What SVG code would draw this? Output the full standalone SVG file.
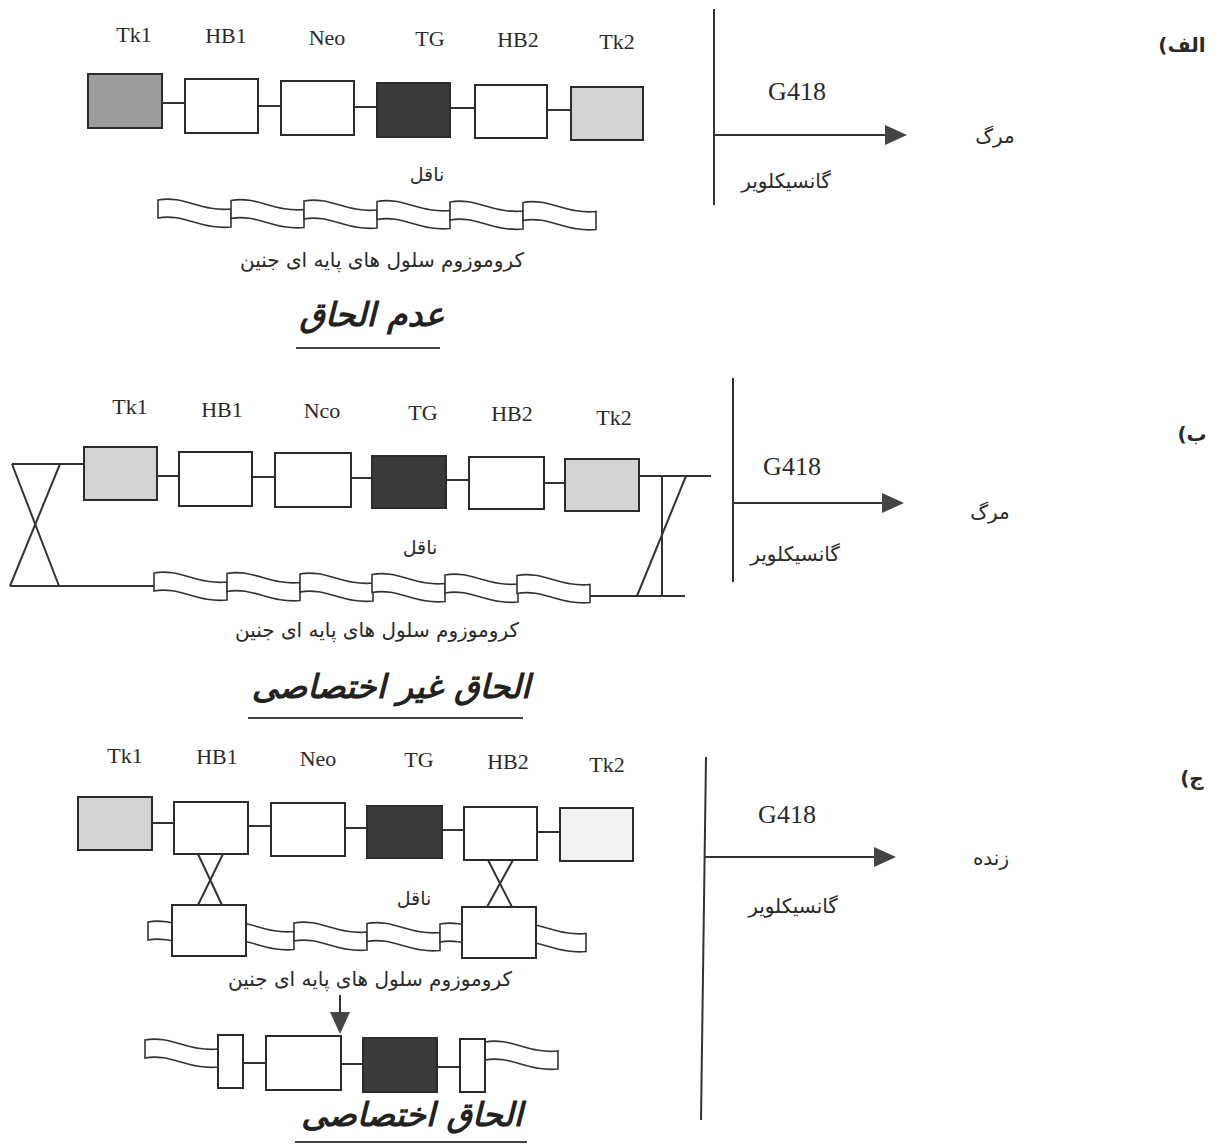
<svg xmlns="http://www.w3.org/2000/svg" xmlns:xlink="http://www.w3.org/1999/xlink" width="1218" height="1145" viewBox="0 0 1218 1145">
<style>
  .bg { fill: #ffffff; }
  .box { stroke: #2b2b2b; stroke-width: 2; fill: #ffffff; }
  .tg { fill: #3a3a3a; }
  .g1 { fill: #9c9c9c; }
  .g2 { fill: #d3d3d3; }
  .g3 { fill: #f1f1f1; }
  .ln { stroke: #333333; stroke-width: 2; fill: none; }
  .lat { font-family: "Liberation Serif", "Times New Roman", serif; font-size: 22px; fill: #2a2a2a; text-anchor: middle; }
  .g418 { font-family: "Liberation Serif", "Times New Roman", serif; font-size: 26px; fill: #2a2a2a; text-anchor: middle; }
  .fa { font-family: "DejaVu Sans", "Noto Sans", sans-serif; font-size: 19px; fill: #2a2a2a; text-anchor: middle; }
  .drug { font-family: "DejaVu Sans", "Noto Sans", sans-serif; font-size: 20px; fill: #2a2a2a; text-anchor: middle; }
  .cap { font-family: "DejaVu Sans", "Noto Sans", sans-serif; font-size: 20px; fill: #2a2a2a; text-anchor: middle; }
  .ttl { font-family: "DejaVu Sans", "Noto Sans", sans-serif; font-size: 33px; font-weight: bold; font-style: italic; fill: #222222; text-anchor: middle; }
  .lbl { font-family: "DejaVu Sans", "Noto Sans", sans-serif; font-size: 20px; font-weight: bold; fill: #2a2a2a; text-anchor: middle; direction: rtl; unicode-bidi: embed; }
  .ul { stroke: #444444; stroke-width: 2; }
</style>
<defs>
  <marker id="arr" markerWidth="22" markerHeight="20" refX="0" refY="10" orient="auto" markerUnits="userSpaceOnUse">
    <path d="M0,0 L22,10 L0,20 Z" fill="#444444"/>
  </marker>
  <path id="wseg" d="M0,0 C25,-5 44,12 73,9 L73,27 C44,30 25,13 0,18 Z" fill="#ffffff" stroke="#333333" stroke-width="1.6"/>
</defs>
<rect class="bg" x="0" y="0" width="1218" height="1145"/>

<!-- ===================== Section A ===================== -->
<g id="sectionA">
  <g id="A-labels">
    <text class="lat" x="134" y="42">Tk1</text>
    <text class="lat" x="226" y="43">HB1</text>
    <text class="lat" x="327" y="45">Neo</text>
    <text class="lat" x="430" y="46">TG</text>
    <text class="lat" x="518" y="47">HB2</text>
    <text class="lat" x="617" y="49">Tk2</text>
  </g>
  <g id="A-connectors">
    <line class="ln" x1="162" y1="103" x2="185" y2="103"/>
    <line class="ln" x1="258" y1="106" x2="281" y2="106"/>
    <line class="ln" x1="354" y1="107" x2="377" y2="107"/>
    <line class="ln" x1="450" y1="108" x2="475" y2="108"/>
    <line class="ln" x1="547" y1="110" x2="571" y2="110"/>
  </g>
  <g id="A-Tk1"><rect class="box g1" x="88" y="74" width="74" height="54"/></g>
  <g id="A-HB1"><rect class="box" x="185" y="79" width="73" height="54"/></g>
  <g id="A-Neo"><rect class="box" x="281" y="81" width="73" height="54"/></g>
  <g id="A-TG"><rect class="box tg" x="377" y="83" width="73" height="54"/></g>
  <g id="A-HB2"><rect class="box" x="475" y="85" width="72" height="53"/></g>
  <g id="A-Tk2"><rect class="box g2" x="571" y="87" width="72" height="53"/></g>
  <text class="fa" x="427" y="181">ناقل</text>
  <g id="A-chromosome">
    <use xlink:href="#wseg" x="158" y="200"/>
    <use xlink:href="#wseg" x="231" y="200.5"/>
    <use xlink:href="#wseg" x="304" y="201"/>
    <use xlink:href="#wseg" x="377" y="201.5"/>
    <use xlink:href="#wseg" x="450" y="202"/>
    <use xlink:href="#wseg" x="523" y="202.5"/>
  </g>
  <text class="cap" x="382" y="267">کروموزوم سلول های پایه ای جنین</text>
  <text class="ttl" x="372" y="326">عدم الحاق</text>
  <line class="ul" x1="296" y1="348" x2="440" y2="348"/>
  <g id="A-selection">
    <line class="ln" x1="714" y1="9" x2="714" y2="205"/>
    <line class="ln" x1="714" y1="135" x2="885" y2="135" marker-end="url(#arr)"/>
    <text class="g418" x="797" y="100">G418</text>
    <text class="drug" x="786" y="188">گانسیکلویر</text>
    <text class="drug" x="995" y="143">مرگ</text>
    <text class="lbl" x="1182" y="52">الف)</text>
  </g>
</g>

<!-- ===================== Section B ===================== -->
<g id="sectionB">
  <g id="B-labels">
    <text class="lat" x="130" y="414">Tk1</text>
    <text class="lat" x="222" y="417">HB1</text>
    <text class="lat" x="322" y="418">Nco</text>
    <text class="lat" x="423" y="420">TG</text>
    <text class="lat" x="512" y="421">HB2</text>
    <text class="lat" x="614" y="425">Tk2</text>
  </g>
  <g id="B-connectors">
    <line class="ln" x1="12" y1="464" x2="84" y2="464"/>
    <line class="ln" x1="157" y1="476" x2="179" y2="476"/>
    <line class="ln" x1="252" y1="477" x2="275" y2="477"/>
    <line class="ln" x1="351" y1="478" x2="372" y2="478"/>
    <line class="ln" x1="446" y1="480" x2="469" y2="480"/>
    <line class="ln" x1="544" y1="483" x2="565" y2="483"/>
    <line class="ln" x1="639" y1="476" x2="711" y2="476"/>
    <line class="ln" x1="10" y1="586" x2="154" y2="586"/>
    <line class="ln" x1="590" y1="596" x2="685" y2="596"/>
    <!-- left crossover -->
    <line class="ln" x1="12" y1="464" x2="59" y2="586"/>
    <line class="ln" x1="60" y1="464" x2="10" y2="586"/>
    <!-- right crossover -->
    <line class="ln" x1="686" y1="476" x2="637" y2="596"/>
    <line class="ln" x1="662" y1="476" x2="662" y2="596"/>
  </g>
  <g id="B-Tk1"><rect class="box g2" x="84" y="447" width="73" height="53"/></g>
  <g id="B-HB1"><rect class="box" x="179" y="452" width="73" height="54"/></g>
  <g id="B-Neo"><rect class="box" x="275" y="453" width="76" height="54"/></g>
  <g id="B-TG"><rect class="box tg" x="372" y="456" width="74" height="52"/></g>
  <g id="B-HB2"><rect class="box" x="469" y="457" width="75" height="52"/></g>
  <g id="B-Tk2"><rect class="box g2" x="565" y="459" width="74" height="52"/></g>
  <text class="fa" x="420" y="554">ناقل</text>
  <g id="B-chromosome">
    <use xlink:href="#wseg" x="154" y="573"/>
    <use xlink:href="#wseg" x="227" y="573.5"/>
    <use xlink:href="#wseg" x="300" y="574"/>
    <use xlink:href="#wseg" x="372" y="574.5"/>
    <use xlink:href="#wseg" x="445" y="575"/>
    <use xlink:href="#wseg" x="517" y="575.5"/>
  </g>
  <text class="cap" x="377" y="637">کروموزوم سلول های پایه ای جنین</text>
  <text class="ttl" x="391" y="698">الحاق غیر اختصاصی</text>
  <line class="ul" x1="248" y1="718" x2="523" y2="718"/>
  <g id="B-selection">
    <line class="ln" x1="733" y1="378" x2="733" y2="582"/>
    <line class="ln" x1="733" y1="503" x2="882" y2="503" marker-end="url(#arr)"/>
    <text class="g418" x="792" y="475">G418</text>
    <text class="drug" x="795" y="561">گانسیکلویر</text>
    <text class="drug" x="990" y="519">مرگ</text>
    <text class="lbl" x="1192" y="441">ب)</text>
  </g>
</g>

<!-- ===================== Section C ===================== -->
<g id="sectionC">
  <g id="C-labels">
    <text class="lat" x="125" y="763">Tk1</text>
    <text class="lat" x="217" y="764">HB1</text>
    <text class="lat" x="318" y="766">Neo</text>
    <text class="lat" x="419" y="767">TG</text>
    <text class="lat" x="508" y="769">HB2</text>
    <text class="lat" x="607" y="772">Tk2</text>
  </g>
  <g id="C-chromosome">
    <use xlink:href="#wseg" x="148" y="922"/>
    <use xlink:href="#wseg" x="221" y="922.5"/>
    <use xlink:href="#wseg" x="294" y="923"/>
    <use xlink:href="#wseg" x="367" y="923.5"/>
    <use xlink:href="#wseg" x="440" y="924"/>
    <use xlink:href="#wseg" x="513" y="924.5"/>
  </g>
  <g id="C-connectors">
    <line class="ln" x1="152" y1="823" x2="174" y2="823"/>
    <line class="ln" x1="248" y1="826" x2="271" y2="826"/>
    <line class="ln" x1="345" y1="828" x2="367" y2="828"/>
    <line class="ln" x1="442" y1="830" x2="464" y2="830"/>
    <line class="ln" x1="537" y1="832" x2="560" y2="832"/>
    <!-- crossovers -->
    <line class="ln" x1="198" y1="854" x2="222" y2="905"/>
    <line class="ln" x1="223" y1="854" x2="198" y2="905"/>
    <line class="ln" x1="488" y1="860" x2="512" y2="907"/>
    <line class="ln" x1="513" y1="860" x2="487" y2="907"/>
  </g>
  <g id="C-Tk1"><rect class="box g2" x="78" y="797" width="74" height="53"/></g>
  <g id="C-HB1"><rect class="box" x="174" y="802" width="74" height="52"/></g>
  <g id="C-Neo"><rect class="box" x="271" y="803" width="74" height="53"/></g>
  <g id="C-TG"><rect class="box tg" x="367" y="806" width="75" height="52"/></g>
  <g id="C-HB2"><rect class="box" x="464" y="807" width="73" height="53"/></g>
  <g id="C-Tk2"><rect class="box g3" x="560" y="808" width="73" height="53"/></g>
  <g id="C-HB1-chr"><rect class="box" x="172" y="905" width="74" height="51"/></g>
  <g id="C-HB2-chr"><rect class="box" x="462" y="907" width="74" height="51"/></g>
  <text class="fa" x="414" y="905">ناقل</text>
  <text class="cap" x="370" y="986">کروموزوم سلول های پایه ای جنین</text>
  <line class="ln" x1="340" y1="995" x2="340" y2="1012" marker-end="url(#arr)"/>
  <g id="C-result">
    <use xlink:href="#wseg" x="145" y="1040"/>
    <use xlink:href="#wseg" x="485" y="1042"/>
    <line class="ln" x1="243" y1="1063" x2="266" y2="1063"/>
    <line class="ln" x1="341" y1="1064" x2="363" y2="1064"/>
    <line class="ln" x1="437" y1="1067" x2="460" y2="1067"/>
    <rect class="box" x="218" y="1035" width="25" height="53"/>
    <rect class="box" x="266" y="1036" width="75" height="54"/>
    <rect class="box tg" x="363" y="1038" width="74" height="54"/>
    <rect class="box" x="460" y="1039" width="25" height="53"/>
  </g>
  <text class="ttl" x="412" y="1126">الحاق اختصاصی</text>
  <line class="ul" x1="295" y1="1142" x2="527" y2="1142"/>
  <g id="C-selection">
    <line class="ln" x1="706" y1="757" x2="701" y2="1120"/>
    <line class="ln" x1="705" y1="857" x2="874" y2="857" marker-end="url(#arr)"/>
    <text class="g418" x="787" y="823">G418</text>
    <text class="drug" x="793" y="913">گانسیکلویر</text>
    <text class="drug" x="991" y="865">زنده</text>
    <text class="lbl" x="1192" y="785">ج)</text>
  </g>
</g>
</svg>
